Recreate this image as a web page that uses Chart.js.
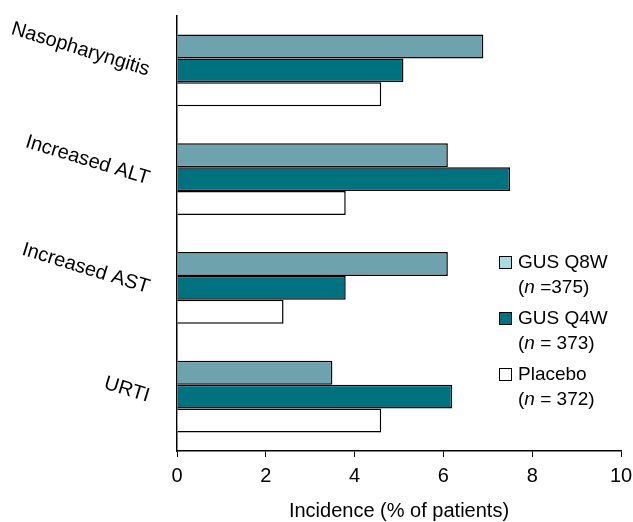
<!DOCTYPE html>
<html>
<head>
<meta charset="utf-8">
<script src="https://cdn.jsdelivr.net/npm/chart.js@4"></script>
<style>
  body { margin: 0; background: #fff; }
  #wrap { position: relative; width: 633px; height: 522px; }
  #legend { position: absolute; left: 499px; top: 249px; font-family: "Liberation Sans", Arial, sans-serif; font-size: 19px; color: #000; line-height: 25px; }
  .item { position: relative; padding-left: 19px; margin-bottom: 6px; }
  .box { position: absolute; left: 0; top: 7px; width: 11px; height: 11px; border: 1px solid #000; }
</style>
</head>
<body>
<div id="wrap">
  <canvas id="chart" width="633" height="522"></canvas>
  <div id="legend"></div>
</div>
<script>
const categories = ["Nasopharyngitis", "Increased ALT", "Increased AST", "URTI"];
const seriesNames = ["GUS Q8W", "GUS Q4W", "Placebo"];
const seriesN = ["=375", "= 373", "= 372"];
const q8wValues = [6.9, 6.1, 6.1, 3.5];
const q4wValues = [5.1, 7.5, 3.8, 6.2];
const placeboValues = [4.6, 3.8, 2.4, 4.6];
const xTicks = [0, 2, 4, 6, 8, 10];

const barColors = ["#6ea2ad", "#00717f", "#ffffff"];
const swatchColors = ["#a9dce1", "#00717f", "#ffffff"];

const font = "'Liberation Sans', Arial, sans-serif";

const ctx = document.getElementById("chart").getContext("2d");
const chart = new Chart(ctx, {
  type: "bar",
  data: {
    labels: categories,
    datasets: [q8wValues, q4wValues, placeboValues].map((vals, i) => ({
      label: seriesNames[i],
      data: vals,
      backgroundColor: barColors[i],
      borderColor: "#000",
      borderWidth: 1.5,
      categoryPercentage: 0.662,
      barPercentage: 1,
    })),
  },
  options: {
    indexAxis: "y",
    responsive: false,
    animation: false,
    layout: { padding: { top: 16, right: 12, left: 0, bottom: 0 } },
    plugins: { legend: { display: false }, tooltip: { enabled: false } },
    scales: {
      x: {
        min: 0,
        max: 10,
        afterBuildTicks: (scale) => { scale.ticks = xTicks.map(v => ({ value: v })); },
        grid: { display: true, drawOnChartArea: false, drawTicks: true, tickLength: 6, color: "#000", lineWidth: 1 },
        border: { color: "#000", width: 1.5 },
        ticks: { color: "#000", font: { family: font, size: 20 }, padding: 7, maxRotation: 0 },
        title: { display: true, text: "Incidence (% of patients)", color: "#000", font: { family: font, size: 20 }, padding: { top: 0, bottom: -1 } },
        afterFit: (scale) => { scale.height = 71; scale.paddingLeft = 0; scale.paddingRight = 0; },
      },
      y: {
        grid: { display: false },
        border: { color: "#000", width: 1.5 },
        ticks: { color: "#000", font: { family: font, size: 20 }, padding: 20, minRotation: -17, maxRotation: -17 },
        afterFit: (scale) => { scale.width = 177; scale.paddingTop = 0; scale.paddingBottom = 0; },
      },
    },
  },
});

const legend = document.getElementById("legend");
seriesNames.forEach((name, i) => {
  const item = document.createElement("div");
  item.className = "item";
  item.innerHTML = '<span class="box" style="background:' + swatchColors[i] + '"></span>' +
    name + '<br>(<i>n</i> ' + seriesN[i] + ')';
  legend.appendChild(item);
});
</script>
</body>
</html>
